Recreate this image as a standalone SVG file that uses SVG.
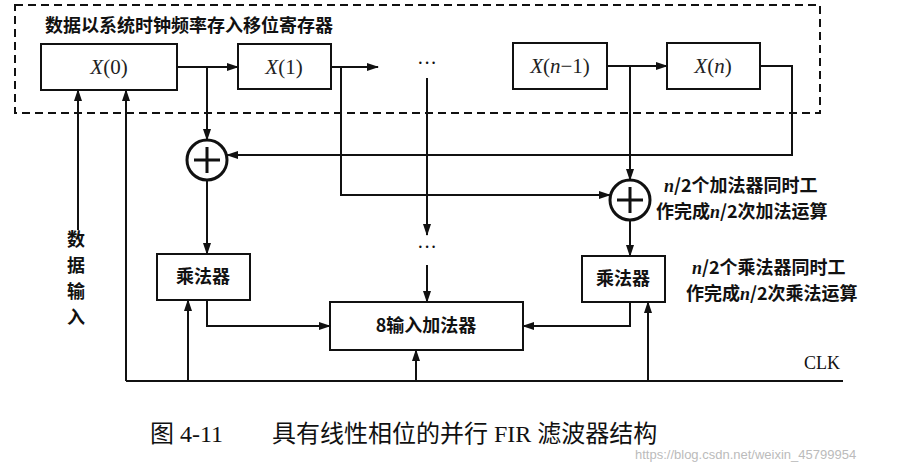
<svg xmlns="http://www.w3.org/2000/svg" width="900" height="463" viewBox="0 0 900 463">
<style>
.b{fill:#fff;stroke:#111;stroke-width:2}
.o{fill:#fff;stroke:#111;stroke-width:3}
.l{fill:none;stroke:#111;stroke-width:2}
.t{font-family:"Liberation Serif","Noto Sans CJK SC",serif;fill:#111}
.x{font-family:"Liberation Serif",serif;font-style:italic;font-size:21px;fill:#222}
.c{font-family:"Noto Sans CJK SC",sans-serif;font-weight:bold;fill:#111;font-size:18px}
</style>
<defs><marker id="a" markerWidth="12" markerHeight="8" refX="11" refY="4" orient="auto" markerUnits="userSpaceOnUse"><path d="M0,0L12,4L0,8z" fill="#111"/></marker></defs>
<rect width="900" height="463" fill="#fff"/>
<rect x="15" y="5" width="805" height="108" fill="none" stroke="#111" stroke-width="2" stroke-dasharray="8,5"/>
<text class="c" x="45" y="32">数据以系统时钟频率存入移位寄存器</text>
<g id="x0"><rect class="b" x="41" y="44" width="136" height="46"/><text class="x" x="109" y="74" text-anchor="middle">X<tspan font-style="normal">(0)</tspan></text></g>
<g id="x1"><rect class="b" x="238" y="44" width="93" height="45"/><text class="x" x="284" y="74" text-anchor="middle">X<tspan font-style="normal">(1)</tspan></text></g>
<g id="xn1"><rect class="b" x="513" y="43" width="94" height="46"/><text class="x" x="560" y="73" text-anchor="middle">X<tspan font-style="normal">(</tspan>n<tspan font-style="normal">−1)</tspan></text></g>
<g id="xn"><rect class="b" x="667" y="43" width="93" height="46"/><text class="x" x="713" y="73" text-anchor="middle">X<tspan font-style="normal">(</tspan>n<tspan font-style="normal">)</tspan></text></g>
<g id="add1"><circle class="o" cx="207" cy="160" r="20"/><path class="o" d="M194,160H220M207,147V173"/></g>
<g id="add2"><circle class="o" cx="630" cy="200" r="20"/><path class="o" d="M617,200H643M630,187V213"/></g>
<g id="m1"><rect class="b" x="157" y="254" width="93" height="46"/><text class="c" x="203" y="283" text-anchor="middle">乘法器</text></g>
<g id="m2"><rect class="b" x="582" y="256" width="83" height="46"/><text class="c" x="623" y="285" text-anchor="middle">乘法器</text></g>
<g id="sum"><rect class="b" x="330" y="302" width="193" height="48"/><text class="c" x="426" y="332" text-anchor="middle">8输入加法器</text></g>
<g id="dots"><text class="t" x="427" y="70" font-size="20" text-anchor="middle">···</text><text class="t" x="427" y="254" font-size="20" text-anchor="middle">···</text></g>
<g id="connectors">
<path class="l" d="M177,67H238" marker-end="url(#a)"/>
<path class="l" d="M207,67V140" marker-end="url(#a)"/>
<path class="l" d="M331,67H378" marker-end="url(#a)"/>
<path class="l" d="M341,67V195H610" marker-end="url(#a)"/>
<path class="l" d="M427,78V235" marker-end="url(#a)"/>
<path class="l" d="M427,265V302" marker-end="url(#a)"/>
<path class="l" d="M607,66H667" marker-end="url(#a)"/>
<path class="l" d="M630,66V180" marker-end="url(#a)"/>
<path class="l" d="M760,66H792V155H227" marker-end="url(#a)"/>
<path class="l" d="M207,180V254" marker-end="url(#a)"/>
<path class="l" d="M630,220V256" marker-end="url(#a)"/>
<path class="l" d="M207,300V326H330" marker-end="url(#a)"/>
<path class="l" d="M630,302V326H523" marker-end="url(#a)"/>
<path class="l" d="M126,381H843"/>
<path class="l" d="M126,381V90" marker-end="url(#a)"/>
<path class="l" d="M188,381V300" marker-end="url(#a)"/>
<path class="l" d="M416,381V350" marker-end="url(#a)"/>
<path class="l" d="M648,381V302" marker-end="url(#a)"/>
<path class="l" d="M78,230V90" marker-end="url(#a)"/>
</g>
<g class="c">
<text x="67" y="246">数</text><text x="67" y="272">据</text><text x="67" y="298">输</text><text x="67" y="324">入</text>
<text x="664" y="192"><tspan font-family="Liberation Serif" font-style="italic">n</tspan>/2个加法器同时工</text>
<text x="656" y="218">作完成<tspan font-family="Liberation Serif" font-style="italic">n</tspan>/2次加法运算</text>
<text x="692" y="274"><tspan font-family="Liberation Serif" font-style="italic">n</tspan>/2个乘法器同时工</text>
<text x="686" y="300">作完成<tspan font-family="Liberation Serif" font-style="italic">n</tspan>/2次乘法运算</text>
</g>
<text class="t" x="804" y="369" font-size="18">CLK</text>
<text class="t" x="150" y="442" font-size="24">图 4-11</text>
<text class="t" x="272" y="442" font-size="24">具有线性相位的并行 FIR 滤波器结构</text>
<text x="635" y="459" font-family="Liberation Sans,sans-serif" font-size="13" fill="#bbb">https://blog.csdn.net/weixin_45799954</text>
</svg>
